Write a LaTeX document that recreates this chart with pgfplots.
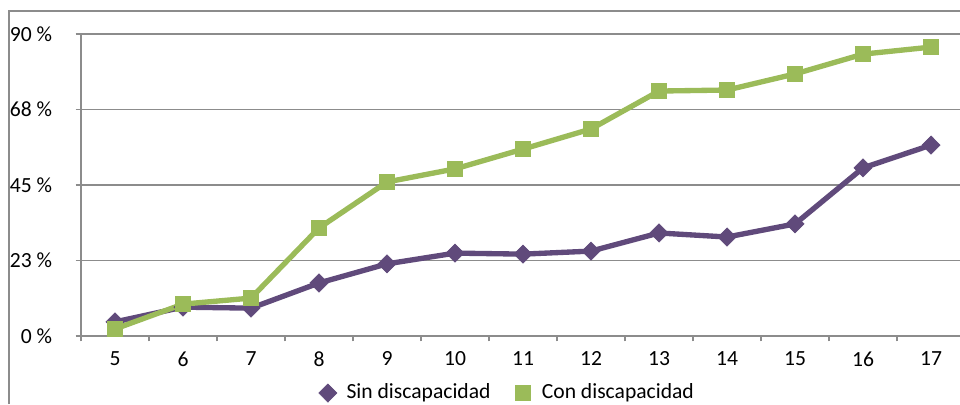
\documentclass[border=0pt]{standalone}
\usepackage{fontspec}
\setmainfont{Carlito}
\usepackage{pgfplots}
\pgfplotsset{compat=1.18}
\definecolor{sinc}{HTML}{604A7B}
\definecolor{conc}{HTML}{9BBB59}
\definecolor{gridc}{HTML}{8C8C8C}
\pgfplotstableread{
x sin con
5 4.2 2.1
6 8.6 9.5
7 8.3 11.3
8 15.8 32.2
9 21.5 45.9
10 24.7 49.8
11 24.4 55.7
12 25.3 61.7
13 30.7 73.0
14 29.5 73.3
15 33.4 78.1
16 50.1 84.0
17 56.9 86.1
}\datatable
\begin{document}
\fontsize{16.2}{19}\selectfont
\begin{tikzpicture}
\useasboundingbox (0,0) rectangle (720pt,303pt);
\draw[gridc, line width=1pt] (6.75pt,0) -- (6.75pt,294.75pt) -- (720pt,294.75pt);
\begin{axis}[
  at={(60.75pt,51pt)}, anchor=south west,
  scale only axis, width=659.25pt, height=226.5pt,
  xmin=4.5, xmax=17.426, ymin=0, ymax=90,
  axis x line*=bottom, axis y line*=left,
  axis line style={gridc, line width=1pt},
  tick align=outside, major tick length=4pt,
  tick style={gridc, line width=1pt},
  every tick label/.append style={font=\fontsize{16.2}{19}\selectfont},
  xtick={4.5,5.5,...,16.5}, xticklabels={},
  extra x ticks={5,6,...,17},
  extra x tick labels={5,6,7,8,9,10,11,12,13,14,15,16,17},
  extra x tick style={major tick length=0pt},
  xticklabel style={yshift=-6pt},
  ytick={0,22.5,45,67.5,90},
  yticklabels={0 \%,23 \%,45 \%,68 \%,90 \%},
  yticklabel style={anchor=east, inner sep=0pt, xshift=-17.5pt},
  ymajorgrids, grid style={gridc, line width=1pt},
  legend columns=2,
  legend style={draw=none, fill=none, at={(0.483,-0.189)}, anchor=center,
    font=\fontsize{16.2}{19}\selectfont,
    /tikz/every even column/.append style={column sep=12.5pt}},
  legend cell align=left,
  legend image code/.code={\draw[#1,only marks] plot coordinates {(0pt,0pt)}; \path (-8pt,0pt) (10pt,0pt);},
]
\addplot[sinc, line width=4pt, mark=diamond*, mark size=6.8pt, mark options={solid, fill=sinc, line width=0.5pt, xscale=1.33}] table[x=x,y=sin]{\datatable};
\addlegendentry{Sin discapacidad}
\addplot[conc, line width=4pt, mark=square*, mark size=5.7pt, mark options={solid, fill=conc, line width=0.5pt}] table[x=x,y=con]{\datatable};
\addlegendentry{Con discapacidad}
\end{axis}
\end{tikzpicture}
\end{document}
